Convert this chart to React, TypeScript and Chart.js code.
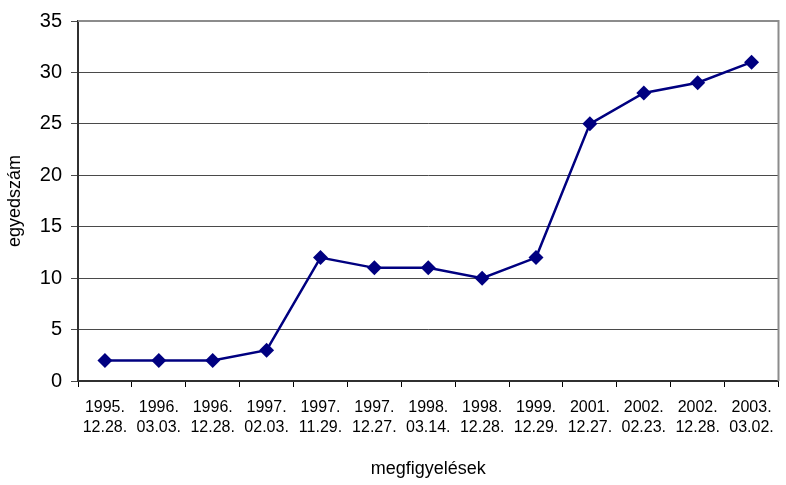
import React, { useEffect, useRef } from "react";
import { Chart, registerables } from "chart.js";

Chart.register(...registerables);

const categories: string[][] = [
  ["1995.", "12.28."],
  ["1996.", "03.03."],
  ["1996.", "12.28."],
  ["1997.", "02.03."],
  ["1997.", "11.29."],
  ["1997.", "12.27."],
  ["1998.", "03.14."],
  ["1998.", "12.28."],
  ["1999.", "12.29."],
  ["2001.", "12.27."],
  ["2002.", "02.23."],
  ["2002.", "12.28."],
  ["2003.", "03.02."],
];

const counts: number[] = [2, 2, 2, 3, 12, 11, 11, 10, 12, 25, 28, 29, 31];

const yMin = 0;
const yMax = 35;
const yStep = 5;

const xTitle = "megfigyelések";
const yTitle = "egyedszám";

const FONT = "'Liberation Sans', Arial, sans-serif";

const plotBorder = {
  id: "plotBorder",
  afterDraw(chart: any) {
    const { ctx, chartArea } = chart;
    ctx.save();
    ctx.strokeStyle = "#8c8c8c";
    ctx.lineWidth = 2;
    ctx.beginPath();
    ctx.moveTo(chartArea.left, chartArea.top);
    ctx.lineTo(chartArea.right, chartArea.top);
    ctx.lineTo(chartArea.right, chartArea.bottom);
    ctx.stroke();
    ctx.restore();
  },
};

export default function App() {
  const ref = useRef<HTMLCanvasElement | null>(null);

  useEffect(() => {
    if (!ref.current) return;
    const chart = new Chart(ref.current, {
      type: "line",
      data: {
        labels: categories,
        datasets: [
          {
            data: counts,
            borderColor: "#000080",
            backgroundColor: "#000080",
            borderWidth: 2.5,
            pointStyle: "rectRot",
            pointRadius: 7.5,
            pointBorderWidth: 0,
            pointBackgroundColor: "#000080",
            tension: 0,
          },
        ],
      },
      options: {
        animation: false,
        responsive: false,
        layout: { padding: { top: 19, right: 3, left: 0, bottom: 0 } },
        plugins: {
          legend: { display: false },
          tooltip: { enabled: false },
        },
        scales: {
          x: {
            offset: true,
            afterFit: (scale: any) => {
              scale.height = 104;
            },
            grid: {
              offset: true,
              drawOnChartArea: false,
              drawTicks: true,
              tickLength: 6,
              color: "#000",
              lineWidth: 1,
            },
            border: { display: true, color: "#303030", width: 2 },
            ticks: {
              color: "#000",
              padding: 11,
              maxRotation: 0,
              autoSkip: false,
              font: { family: FONT, size: 16, lineHeight: 1.22 },
            },
            title: {
              display: true,
              text: xTitle,
              color: "#000",
              font: { family: FONT, size: 18 },
              padding: { top: 0, bottom: 5 },
            },
          },
          y: {
            min: yMin,
            max: yMax,
            afterFit: (scale: any) => {
              scale.width = 78;
            },
            grid: {
              color: "#4a4a4a",
              lineWidth: 1,
              drawTicks: true,
              tickLength: 7,
            },
            border: { display: true, color: "#303030", width: 2 },
            ticks: {
              stepSize: yStep,
              color: "#000",
              padding: 9,
              font: { family: FONT, size: 20 },
            },
            title: {
              display: true,
              text: yTitle,
              color: "#000",
              font: { family: FONT, size: 18 },
              padding: { top: 4, bottom: 0 },
            },
          },
        },
      },
      plugins: [plotBorder],
    } as any);
    return () => chart.destroy();
  }, []);

  return (
    <div style={{ position: "absolute", left: 0, top: 0, width: 786, height: 485, background: "#fff" }}>
      <canvas ref={ref} width={786} height={485} />
    </div>
  );
}
